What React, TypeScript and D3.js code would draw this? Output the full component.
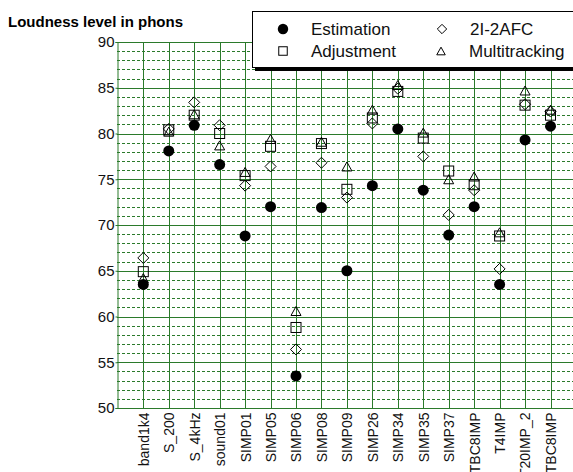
import React, { useEffect, useRef } from "react"
import * as d3 from "d3"

// stimuli along the x axis (the last name repeats in the source chart)
const categories = ["band1k4", "S_200", "S_4kHz", "sound01", "SIMP01", "SIMP05", "SIMP06", "SIMP08", "SIMP09", "SIMP26", "SIMP34", "SIMP35", "SIMP37", "TBC8IMP", "T4IMP", "T20IMP_2", "TBC8IMP"]

const estimation = [63.5, 78.1, 80.9, 76.6, 68.8, 72.0, 53.5, 71.9, 65.0, 74.3, 80.5, 73.8, 68.9, 72.0, 63.5, 79.3, 80.8]
const adjustment = [64.9, 80.4, 82.0, 80.0, 75.4, 78.6, 58.8, 78.9, 73.9, 81.7, 84.6, 79.5, 75.9, 74.4, 68.8, 83.1, 82.0]
const afc2i = [66.4, 80.5, 83.4, 80.9, 74.3, 76.4, 56.4, 76.8, 73.0, 81.1, 84.9, 77.5, 71.1, 73.8, 65.2, 83.2, 82.4]
const multitracking = [64.2, 80.2, 82.1, 78.7, 75.8, 79.4, 60.6, 79.1, 76.4, 82.6, 85.3, 80.1, 75.0, 75.3, 69.2, 84.7, 82.6]

const yTicks = [50, 55, 60, 65, 70, 75, 80, 85, 90]

const W = 573, H = 472
const FONT = "'Liberation Sans', Arial, sans-serif"
const GREEN = "#2b7a2b"

type Shape = "circle" | "square" | "diamond" | "triangle"

function drawMarker(g: any, shape: Shape, cx: number, cy: number, s = 1) {
  if (shape === "circle") {
    g.append("circle").attr("cx", cx).attr("cy", cy).attr("r", 5.5 * s).attr("fill", "#000")
  } else if (shape === "square") {
    g.append("rect").attr("x", cx - 5 * s).attr("y", cy - 5 * s).attr("width", 10 * s).attr("height", 10 * s)
      .attr("fill", "none").attr("stroke", "#000")
  } else if (shape === "diamond") {
    const p = [[cx, cy - 5.5 * s], [cx + 5.5 * s, cy], [cx, cy + 5.5 * s], [cx - 5.5 * s, cy]]
    g.append("polygon").attr("points", p.map((d) => d.join(",")).join(" ")).attr("fill", "none").attr("stroke", "#000")
  } else {
    const p = [[cx, cy - 4.5 * s], [cx + 5 * s, cy + 4.5 * s], [cx - 5 * s, cy + 4.5 * s]]
    g.append("polygon").attr("points", p.map((d) => d.join(",")).join(" ")).attr("fill", "none").attr("stroke", "#000")
  }
}

function LoudnessChart() {
  const svgRef = useRef<SVGSVGElement>(null)

  useEffect(() => {
    const svg = d3.select(svgRef.current)
    svg.selectAll("*").remove()

    const left = 117, top = 42, bottom = 408, right = 576

    const x = d3.scalePoint<number>().domain(d3.range(categories.length)).range([143.3, 550.5])
    const y = d3.scaleLinear().domain([50, 90]).range([bottom, top])

    const grid = svg.append("g")

    // minor dashed lines every 1 phon
    d3.range(51, 90).filter((v) => v % 5 !== 0).forEach((v) => {
      grid.append("line").attr("x1", left).attr("x2", right)
        .attr("y1", Math.round(y(v)) + 0.5).attr("y2", Math.round(y(v)) + 0.5)
        .attr("stroke", GREEN).attr("stroke-dasharray", "3,2")
    })
    // major lines
    yTicks.forEach((v) => {
      grid.append("line").attr("x1", left).attr("x2", right)
        .attr("y1", Math.round(y(v)) + 0.5).attr("y2", Math.round(y(v)) + 0.5)
        .attr("stroke", GREEN)
    })
    // vertical lines at each category
    categories.forEach((_, i) => {
      const xx = Math.round(x(i)!) + 0.5
      grid.append("line").attr("x1", xx).attr("x2", xx).attr("y1", top).attr("y2", bottom).attr("stroke", GREEN)
    })

    // y axis
    const yAxis = svg.append("g").attr("transform", `translate(${left + 0.5},0)`)
      .call(d3.axisLeft(y).tickValues(yTicks).tickSize(2).tickPadding(1))
    yAxis.select(".domain").attr("stroke", GREEN)
    yAxis.selectAll(".tick line").attr("stroke", GREEN)
    yAxis.selectAll("text").attr("font-family", FONT).attr("font-size", 15).attr("fill", "#111")

    // x axis
    const xAxis = svg.append("g").attr("transform", `translate(0,${bottom + 0.5})`)
      .call(d3.axisBottom(x).tickFormat((i) => categories[i as number]).tickSize(0))
    xAxis.select(".domain").attr("stroke", GREEN).attr("d", `M${left},0H${right}`)
    xAxis.selectAll("text")
      .attr("font-family", FONT).attr("font-size", 14).attr("fill", "#111")
      .attr("transform", "rotate(-90)")
      .attr("x", -4).attr("y", 0).attr("dy", "0.35em")
      .style("text-anchor", "end")

    // markers
    const marks = svg.append("g")
    estimation.forEach((v, i) => drawMarker(marks, "circle", x(i)!, y(v)))
    adjustment.forEach((v, i) => drawMarker(marks, "square", x(i)!, y(v)))
    afc2i.forEach((v, i) => drawMarker(marks, "diamond", x(i)!, y(v)))
    multitracking.forEach((v, i) => drawMarker(marks, "triangle", x(i)!, y(v)))

    // title
    svg.append("text").attr("x", 8).attr("y", 27).text("Loudness level in phons")
      .attr("font-family", FONT).attr("font-size", 15).attr("font-weight", "bold")

    // legend
    const lg = svg.append("g")
    lg.append("rect").attr("x", 255).attr("y", 14).attr("width", 330).attr("height", 57).attr("fill", "#000")
    lg.append("rect").attr("x", 252.5).attr("y", 11.5).attr("width", 330).attr("height", 56)
      .attr("fill", "#fff").attr("stroke", "#000")
    const items: [Shape, string, number, number][] = [
      ["circle", "Estimation", 283, 29],
      ["square", "Adjustment", 283, 51],
      ["diamond", "2I-2AFC", 442, 29],
      ["triangle", "Multitracking", 441, 51],
    ]
    items.forEach(([shape, label, mx, my]) => {
      drawMarker(lg, shape, mx, my, shape === "circle" ? 0.95 : 0.85)
      lg.append("text").attr("x", mx + 28).attr("y", my + 6).text(label)
        .attr("font-family", FONT).attr("font-size", 17).attr("fill", "#111")
    })
  }, [])

  return <svg ref={svgRef} width={W} height={H} style={{ position: "absolute", left: 0, top: 0, background: "#fff" }}></svg>
}

export default function App() {
  return <LoudnessChart />
}
